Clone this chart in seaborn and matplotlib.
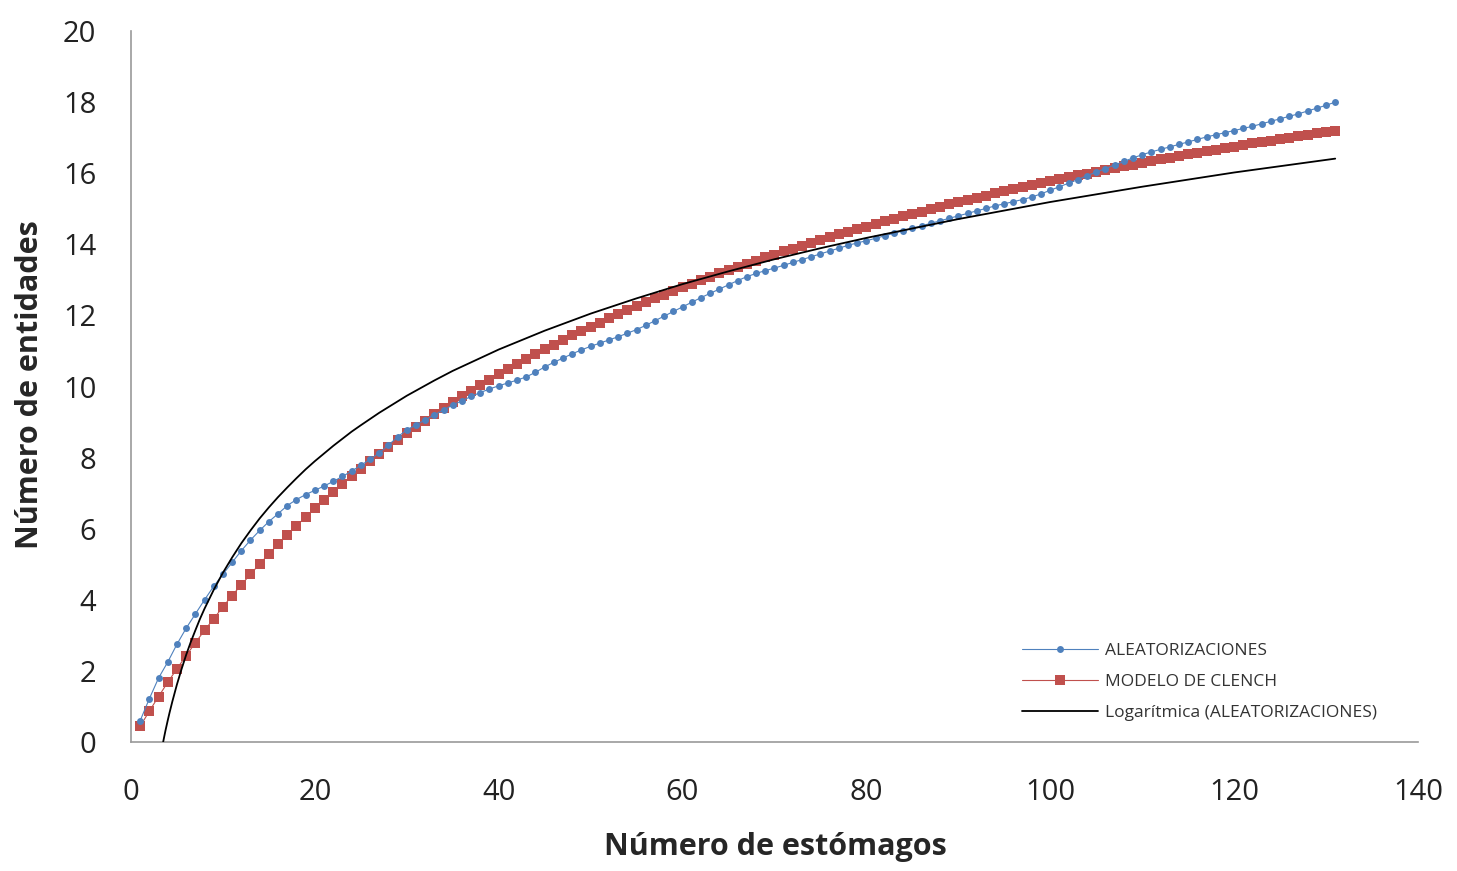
import matplotlib
matplotlib.use("Agg")
import matplotlib.pyplot as plt
import seaborn as sns
import pandas as pd

# ---- data ----
estomagos = list(range(1, 132))

aleatorizaciones = [
    0.60, 1.22, 1.80, 2.25, 2.75, 3.20, 3.60, 4.00, 4.38, 4.72,
    5.05, 5.38, 5.68, 5.95, 6.20, 6.42, 6.65, 6.82, 6.96, 7.08,
    7.20, 7.33, 7.47, 7.62, 7.78, 7.95, 8.13, 8.35, 8.58, 8.78,
    8.92, 9.06, 9.20, 9.34, 9.48, 9.60, 9.72, 9.83, 9.93, 10.02,
    10.10, 10.18, 10.27, 10.40, 10.55, 10.68, 10.80, 10.92, 11.03, 11.13,
    11.22, 11.31, 11.40, 11.50, 11.60, 11.72, 11.85, 11.98, 12.11, 12.24,
    12.37, 12.50, 12.62, 12.74, 12.86, 12.98, 13.09, 13.18, 13.26, 13.33,
    13.41, 13.49, 13.57, 13.65, 13.73, 13.81, 13.89, 13.97, 14.04, 14.10,
    14.17, 14.24, 14.31, 14.38, 14.45, 14.52, 14.59, 14.66, 14.73, 14.80,
    14.87, 14.94, 15.01, 15.08, 15.14, 15.20, 15.26, 15.33, 15.42, 15.52,
    15.62, 15.72, 15.82, 15.93, 16.03, 16.13, 16.23, 16.33, 16.43, 16.52,
    16.60, 16.67, 16.74, 16.81, 16.88, 16.95, 17.02, 17.08, 17.14, 17.20,
    17.26, 17.32, 17.39, 17.46, 17.53, 17.60, 17.67, 17.75, 17.83, 17.91, 18.00,
]

clench = [
    0.44, 0.87, 1.28, 1.68, 2.06, 2.43, 2.79, 3.14, 3.47, 3.80,
    4.12, 4.42, 4.72, 5.01, 5.29, 5.56, 5.82, 6.08, 6.33, 6.57,
    6.81, 7.04, 7.26, 7.48, 7.69, 7.90, 8.10, 8.30, 8.49, 8.68,
    8.87, 9.04, 9.22, 9.39, 9.56, 9.72, 9.88, 10.04, 10.19, 10.34,
    10.49, 10.63, 10.77, 10.91, 11.05, 11.18, 11.31, 11.44, 11.56, 11.68,
    11.80, 11.92, 12.04, 12.15, 12.26, 12.37, 12.48, 12.58, 12.69, 12.79,
    12.89, 12.99, 13.08, 13.18, 13.27, 13.36, 13.45, 13.54, 13.63, 13.71,
    13.80, 13.88, 13.96, 14.04, 14.12, 14.20, 14.28, 14.35, 14.43, 14.50,
    14.58, 14.65, 14.72, 14.79, 14.85, 14.92, 14.99, 15.05, 15.12, 15.18,
    15.24, 15.31, 15.37, 15.43, 15.49, 15.55, 15.60, 15.66, 15.72, 15.77,
    15.83, 15.88, 15.94, 15.99, 16.04, 16.09, 16.14, 16.19, 16.24, 16.29,
    16.34, 16.39, 16.43, 16.48, 16.53, 16.57, 16.62, 16.66, 16.71, 16.75,
    16.79, 16.84, 16.88, 16.92, 16.96, 17.00, 17.04, 17.08, 17.12, 17.16, 17.20,
]

log_x = [3.5, 3.6, 3.75, 4, 4.2, 4.5, 5, 5.5, 6, 6.5,
         7, 7.5, 8, 9, 10, 11, 12, 13, 14, 15,
         16, 17, 18, 19, 20, 22, 24, 25, 27, 30,
         33, 35, 40, 45, 50, 55, 60, 65, 70, 75,
         80, 90, 100, 110, 120, 131]
log_y = [0.00, 0.13, 0.32, 0.61, 0.83, 1.14, 1.62, 2.05, 2.45, 2.81,
         3.14, 3.46, 3.75, 4.28, 4.76, 5.19, 5.59, 5.95, 6.29, 6.60,
         6.89, 7.16, 7.42, 7.67, 7.90, 8.33, 8.73, 8.91, 9.26, 9.74,
         10.17, 10.44, 11.04, 11.57, 12.05, 12.48, 12.88, 13.24, 13.58, 13.89,
         14.18, 14.71, 15.19, 15.62, 16.02, 16.41]

x_ticks = [0, 20, 40, 60, 80, 100, 120, 140]
y_ticks = [0, 2, 4, 6, 8, 10, 12, 14, 16, 18, 20]

labels = ["ALEATORIZACIONES", "MODELO DE CLENCH", "Logarítmica (ALEATORIZACIONES)"]
x_title = "Número de estómagos"
y_title = "Número de entidades"

df = pd.DataFrame({"x": estomagos, "alea": aleatorizaciones, "clench": clench})
df_log = pd.DataFrame({"x": log_x, "y": log_y})

# ---- style ----
sns.set_style("white")
plt.rcParams["font.family"] = ["Open Sans", "DejaVu Sans"]

BLUE = "#4F81BD"
RED = "#C0504D"

fig = plt.figure(figsize=(14.57, 8.71), dpi=100)
ax = fig.add_axes([0.0899, 0.1481, 0.8833, 0.8163])

sns.lineplot(data=df, x="x", y="alea", ax=ax, color=BLUE, linewidth=0.8,
             marker="o", markersize=5, markeredgewidth=0, label=labels[0],
             zorder=3)
sns.lineplot(data=df, x="x", y="clench", ax=ax, color=RED, linewidth=0.8,
             marker="s", markersize=7.3, markeredgewidth=0, label=labels[1],
             zorder=2)
sns.lineplot(data=df_log, x="x", y="y", ax=ax, color="black", linewidth=1.3,
             label=labels[2], zorder=4)

ax.set_xlim(0, 140)
ax.set_ylim(0, 20)
ax.set_xticks(x_ticks)
ax.set_yticks(y_ticks)
ax.tick_params(axis="both", length=0, labelsize=21, colors="#222222")
ax.tick_params(axis="y", pad=25)
ax.tick_params(axis="x", pad=26)

for s in ["top", "right"]:
    ax.spines[s].set_visible(False)
for s in ["left", "bottom"]:
    ax.spines[s].set_color("#9a9a9a")
    ax.spines[s].set_linewidth(1.2)

ax.set_xlabel(x_title, fontsize=22, fontweight="bold", va="center")
ax.set_ylabel(y_title, fontsize=22, fontweight="bold", va="center")
ax.xaxis.set_label_coords(0.5004, -0.148)
ax.yaxis.set_label_coords(-0.0785, 0.502)

leg = ax.legend(loc="lower left", bbox_to_anchor=(0.687, 0.02), frameon=False,
                fontsize=12.5, handlelength=4.37, handletextpad=0.4,
                labelspacing=0.84, borderaxespad=0)
for t in leg.get_texts():
    t.set_color("#333333")

fig.savefig("out.png", dpi=100, facecolor="white")
